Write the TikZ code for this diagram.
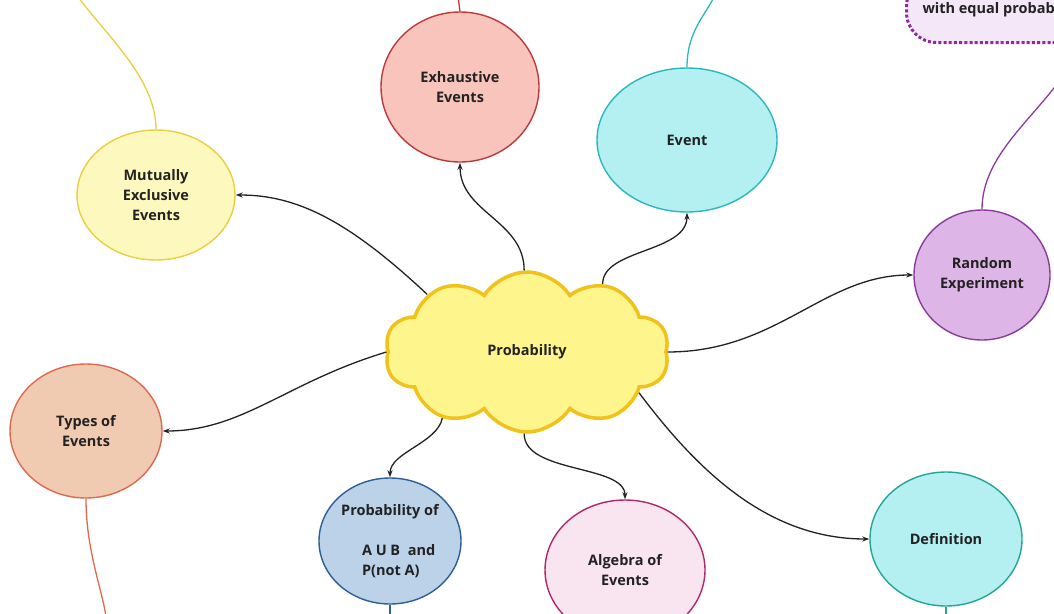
\documentclass[tikz,border=0pt]{standalone}
\usepackage{fontspec}
\setmainfont{Open Sans}
\usetikzlibrary{shapes.geometric,shapes.symbols,arrows.meta}

\definecolor{exhfill}{HTML}{F8C4BC}
\definecolor{exhline}{HTML}{BE3A3A}
\definecolor{evfill}{HTML}{B4EFF1}
\definecolor{evline}{HTML}{2AB7BF}
\definecolor{mutfill}{HTML}{FDF9BE}
\definecolor{mutline}{HTML}{E8D03E}
\definecolor{rndfill}{HTML}{DDB6E7}
\definecolor{rndline}{HTML}{8C3B9C}
\definecolor{typfill}{HTML}{F1CBB1}
\definecolor{typline}{HTML}{E0684F}
\definecolor{aubfill}{HTML}{BBD2E9}
\definecolor{aubline}{HTML}{2E5E96}
\definecolor{algfill}{HTML}{F8E5F0}
\definecolor{algline}{HTML}{B0276E}
\definecolor{deffill}{HTML}{B4EFF1}
\definecolor{defline}{HTML}{24A596}
\definecolor{cloudfill}{HTML}{FEF68D}
\definecolor{cloudline}{HTML}{F1C21C}
\definecolor{boxfill}{HTML}{F4E7F7}
\definecolor{boxline}{HTML}{8E2A9E}
\definecolor{inkcol}{HTML}{222222}

\begin{document}
\begin{tikzpicture}[x=1pt, y=-1pt, >={Stealth[length=7pt,width=5pt]},
	main/.style = {draw, ellipse, line width=1.4pt, inner sep=0pt, align=center, text=inkcol,
		font=\fontsize{14.5}{20}\selectfont\bfseries},
	link/.style = {line width=1.3pt, inkcol}]
	\useasboundingbox (0,0) rectangle (1054,613);
	\clip (0,0) rectangle (1054,613);

	%% Nodes
	\node[cloud, cloud puffs=10, cloud puff arc=115, aspect=1.75, draw=cloudline, fill=cloudfill,
		line width=3.5pt, minimum width=284pt, minimum height=160pt, text=inkcol,
		font=\fontsize{14.5}{20}\selectfont\bfseries] (5) at (527,352) {Probability};

	\node[main, draw=exhline, fill=exhfill, minimum width=158pt, minimum height=150pt] (1) at (460,87) {Exhaustive\\Events};
	\node[main, draw=evline, fill=evfill, minimum width=180pt, minimum height=144pt] (2) at (687,140) {Event};
	\node[main, draw=mutline, fill=mutfill, minimum width=158pt, minimum height=130pt] (3) at (156,195) {Mutually\\Exclusive\\Events};
	\node[main, draw=rndline, fill=rndfill, minimum width=136pt, minimum height=130pt] (4) at (982,275) {Random\\Experiment};

	\node[main, draw=typline, fill=typfill, minimum width=152pt, minimum height=134pt] (6) at (86,431) {Types of\\Events};
	\node[main, draw=aubline, fill=aubfill, minimum width=142pt, minimum height=126pt] (7) at (390,541)
		{Probability of\\[20pt]\hspace*{18pt}\makebox[74pt][l]{A U B\ \ and}\\\hspace*{18pt}\makebox[74pt][l]{P(not A)}};
	\node[main, draw=algline, fill=algfill, minimum width=160pt, minimum height=140pt] (8) at (625,570) {Algebra of\\Events};
	\node[main, draw=defline, fill=deffill, minimum width=152pt, minimum height=134pt] (9) at (946,539) {Definition};

	\node[draw=boxline, fill=boxfill, line width=3pt, dash pattern=on 3pt off 2.2pt, rounded corners=30pt,
		anchor=south west, inner xsep=16pt, inner ysep=26pt, text depth=3pt, text=inkcol,
		font=\fontsize{14.5}{20}\selectfont\bfseries] (10) at (905,44) {with equal probability};

	%% free ends
	\coordinate (t1) at (458,-3);
	\coordinate (t2) at (714,-3);
	\coordinate (t3) at (78,-3);
	\coordinate (t4) at (1057,84);
	\coordinate (t6) at (106,616);
	\coordinate (t7) at (390,616);
	\coordinate (t9) at (946,616);

	%% Edges
	\draw[link, ->] (5.92) .. controls +(0,-50) and +(0,50) .. (1.south);
	\draw[link, ->] (5.42) .. controls +(0,-35) and +(0,40) .. (2.south);
	\draw[link, ->] (5.150) .. controls +(-80,-75) and +(60,0) .. (3.east);
	\draw[link, ->] (5.east) .. controls +(110,0) and +(-90,0) .. (4.west);
	\draw[link, ->] (5.west) .. controls +(-100,30) and +(80,0) .. (6.east);
	\draw[link, ->] (5.218) .. controls +(-5,25) and +(0,-25) .. (7.north);
	\draw[link, ->] (5.268) .. controls +(0,40) and +(0,-35) .. (8.north);
	\draw[link, ->] (5.340) .. controls +(60,80) and +(-100,0) .. (9.west);

	\draw[exhline, line width=1.3pt] (1.north) -- (t1);
	\draw[evline, line width=1.3pt] (2.north) .. controls +(0,-35) and +(-10,20) .. (t2);
	\draw[mutline, line width=1.3pt] (3.north) .. controls +(0,-50) and +(30,40) .. (t3);
	\draw[rndline, line width=1.3pt] (4.north) .. controls +(0,-50) and +(-30,40) .. (t4);
	\draw[typline, line width=1.3pt] (6.south) .. controls +(0,50) and +(-5,-30) .. (t6);
	\draw[aubline, line width=1.3pt] (7.south) -- (t7);
	\draw[defline, line width=1.3pt] (9.south) -- (t9);

\end{tikzpicture}
\end{document}
